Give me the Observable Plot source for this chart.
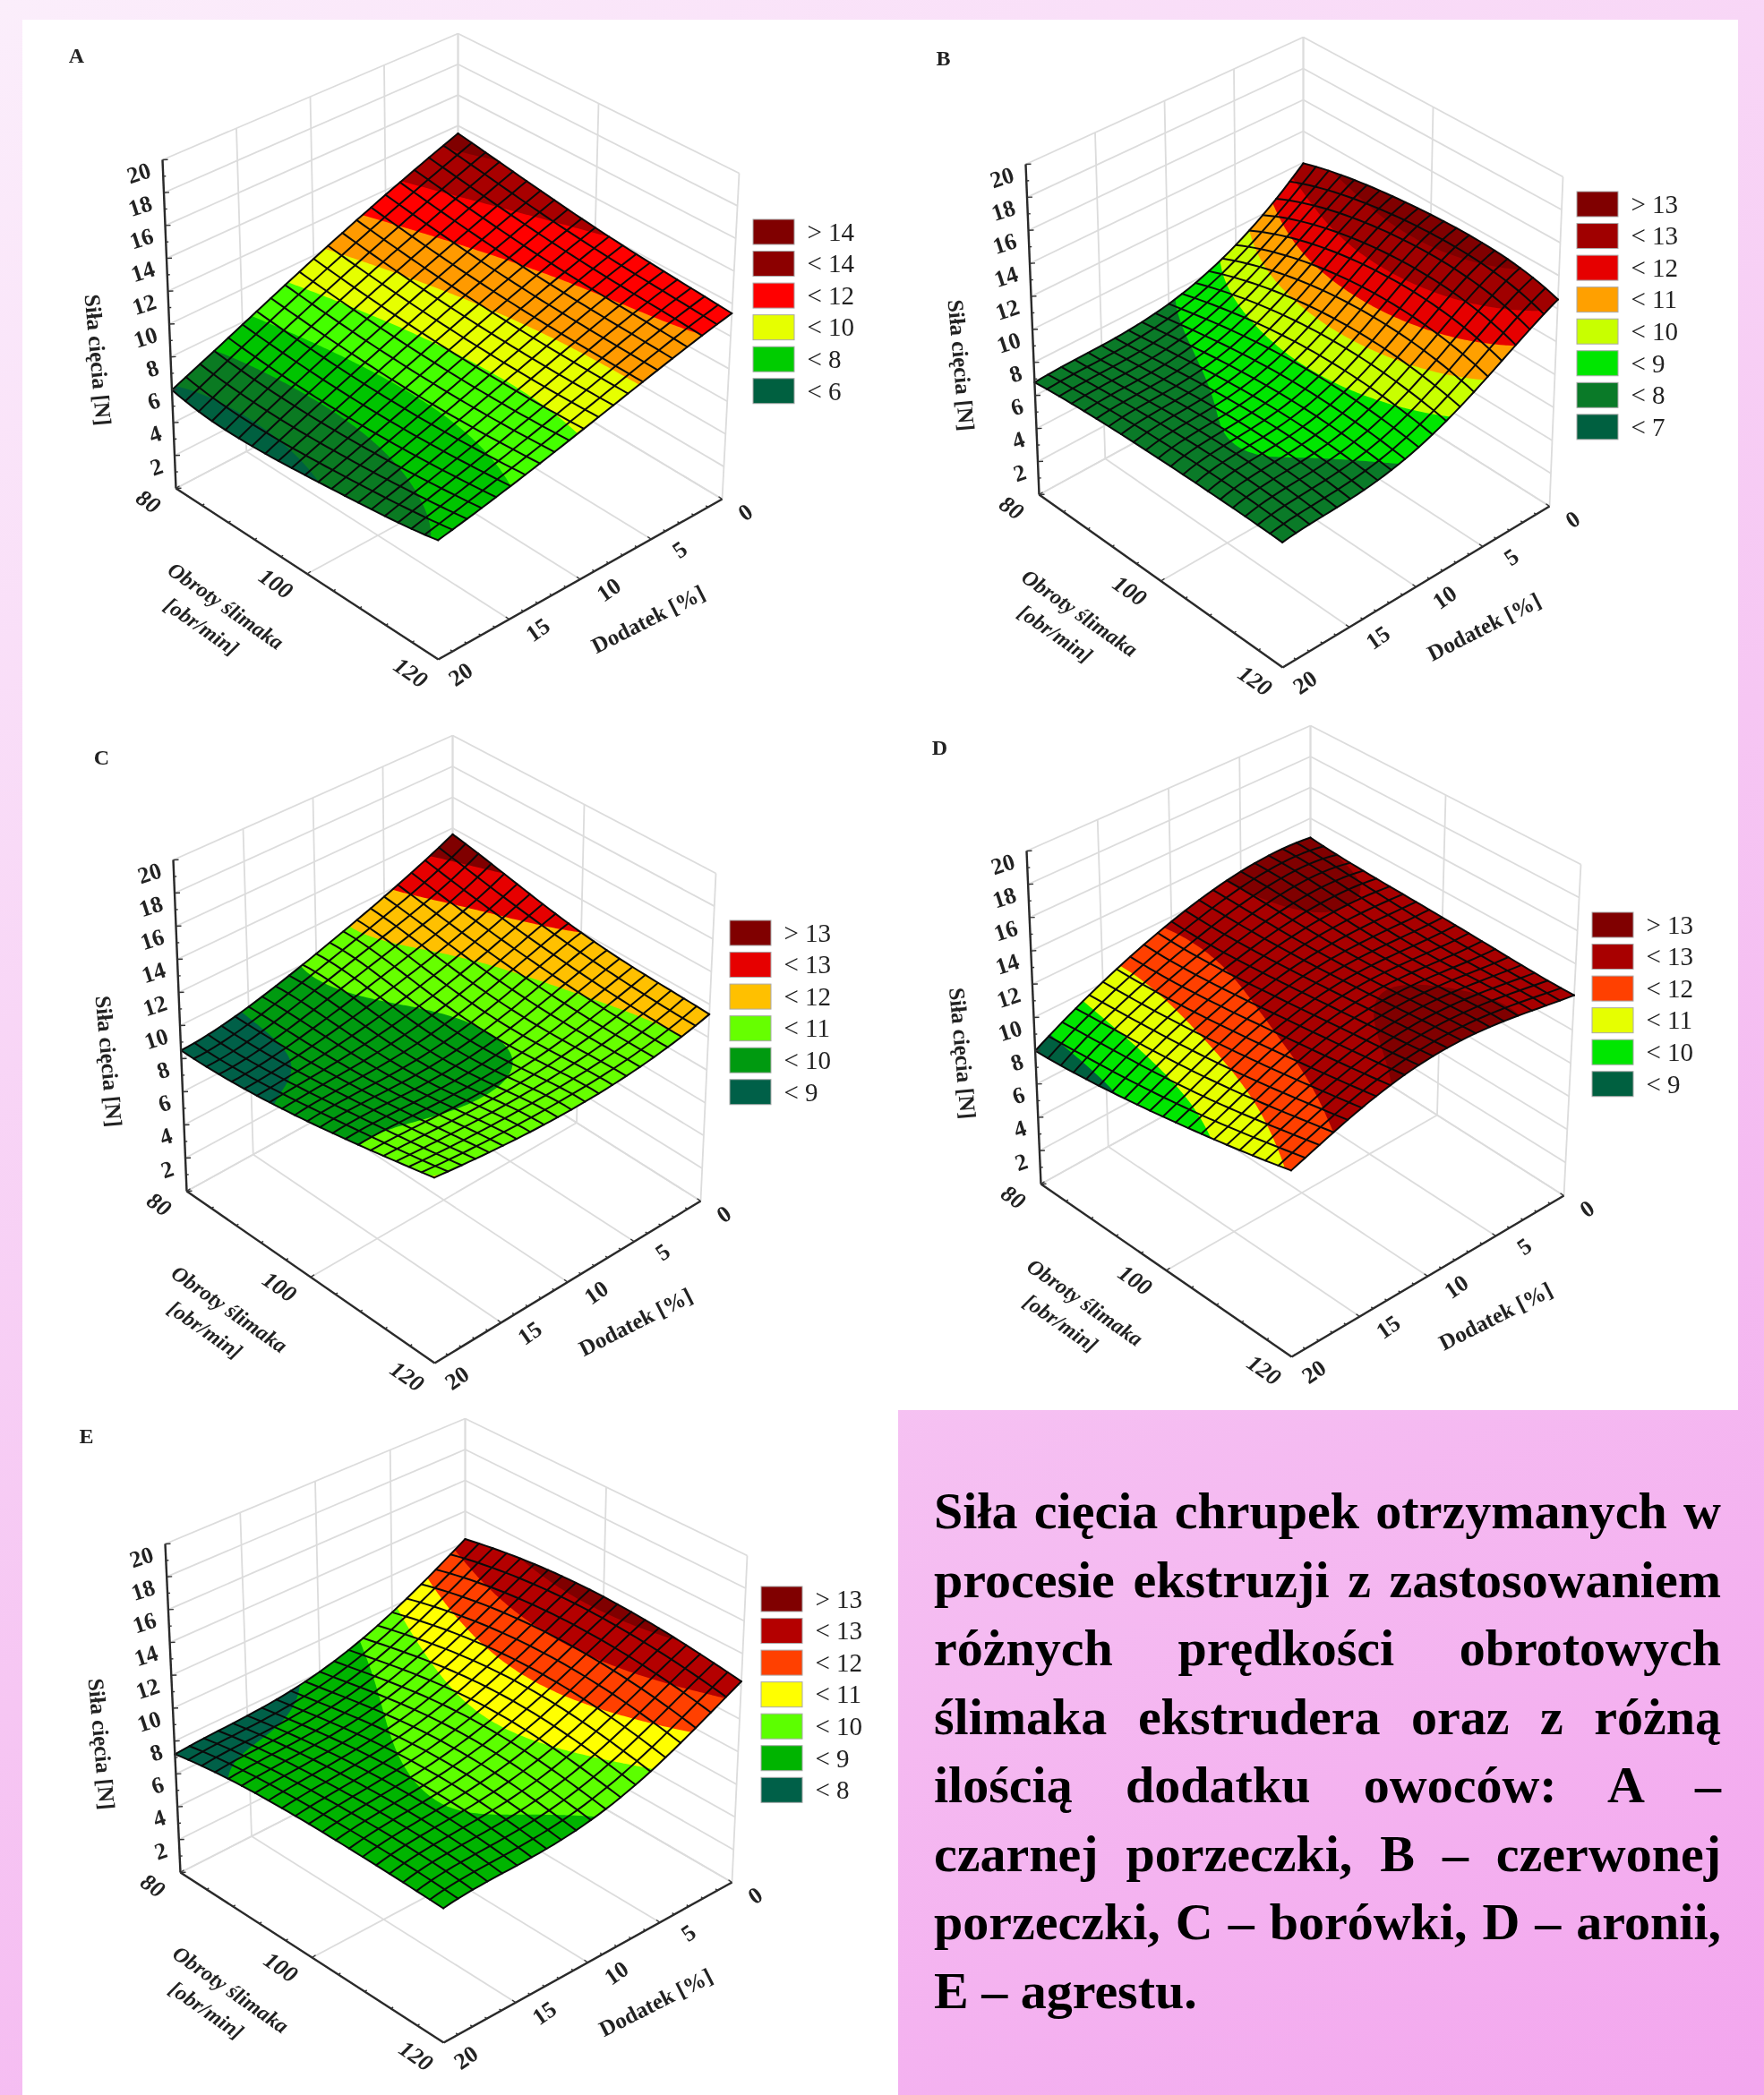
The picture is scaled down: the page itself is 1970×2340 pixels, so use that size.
<!DOCTYPE html>
<html lang="pl">
<head>
<meta charset="utf-8">
<script src="https://cdn.jsdelivr.net/npm/d3@7"></script>
<script src="https://cdn.jsdelivr.net/npm/@observablehq/plot@0.6"></script>
<style>
html,body{margin:0;padding:0;width:1970px;height:2340px;overflow:hidden}
#page{position:relative;width:1970px;height:2340px;background:linear-gradient(150deg,#fbeefb 0%,#f6c6f3 55%,#f3a6ee 100%)}
.white{position:absolute;background:#fff}
.panel{position:absolute}
.panel svg{display:block;background:transparent;filter:blur(.5px)}
#caption{position:absolute;left:1043px;top:1650px;width:879px;font:bold 58px/76.5px "Liberation Serif",serif;color:#000;white-space:nowrap}
#caption div{text-align:justify;text-align-last:justify}
#caption div:last-child{text-align-last:left}
</style>
</head>
<body>
<div id="page">
<div class="white" style="left:25px;top:22px;width:1916px;height:1553px"></div>
<div class="white" style="left:25px;top:1575px;width:978px;height:765px"></div>
<div id="caption"></div>
</div>
<script>
// Values: siła cięcia [N]; rows = obroty 80..120, columns = dodatek 0..20
const obrotyNodes = [80, 90, 100, 110, 120];
const dodatekNodes = [0, 5, 10, 15, 20];
const surfaceA = [[13.4,11.6,9.7,7.75,5.9],[12.7,11.0,9.25,7.45,5.55],[12.1,10.6,9.0,7.4,5.9],[11.7,10.4,8.95,7.6,6.4],[11.4,10.3,9.1,8.0,7.1]];
const surfaceB = [[12.6,9.5,7.9,7.4,7.2],[13.3,10.8,8.6,7.75,7.5],[13.5,11.3,8.95,8.03,7.6],[13.3,11.1,8.85,8.02,7.6],[12.3,10.1,8.3,7.65,7.5]];
const surfaceC = [[13.7,11.8,10.3,9.1,8.5],[12.8,11.2,10.05,9.2,8.75],[12.0,10.7,9.7,9.45,9.35],[11.6,10.55,10.0,10.0,10.15],[11.4,10.6,10.4,10.6,11.05]];
const surfaceD = [[13.15,13.15,12.15,10.55,8.5],[12.85,13.0,12.2,10.8,8.85],[12.7,12.85,12.55,11.25,9.45],[12.5,13.0,12.95,11.85,10.2],[12.4,13.15,13.35,12.55,11.1]];
const surfaceE = [[12.4,9.85,8.25,7.65,7.4],[13.1,10.8,9.1,8.4,8.1],[13.3,11.2,9.6,8.85,8.4],[13.05,11.0,9.5,8.95,8.5],[12.5,10.3,8.95,8.65,8.5]];

const levelsA = [6,7,8,9,10,11,12,13];
const colorsA = ["#006040","#0a7a22","#00c400","#44ff00","#e6ff00","#ff9a00","#ff0000","#a80000","#800000"];
const levelsB = [7,8,9,10,11,12,13];
const colorsB = ["#006040","#0a7a28","#00e600","#c8ff00","#ffa000","#e60000","#a00000","#800000"];
const levelsC = [9,10,11,12,13];
const colorsC = ["#006048","#009a10","#66ff00","#ffc000","#e60000","#800000"];
const levelsD = [9,10,11,12,13];
const colorsD = ["#006040","#00e600","#e6ff00","#ff4000","#a80000","#800000"];
const levelsE = [8,9,10,11,12,13];
const colorsE = ["#006048","#00b400","#5cff00","#ffff00","#ff4000","#b40000","#800000"];

const legendLabelsA = ["> 14","< 14","< 12","< 10","< 8","< 6"];
const legendColorsA = ["#800000","#8c0000","#ff0000","#e6ff00","#00cc00","#006040"];
const legendLabelsB = ["> 13","< 13","< 12","< 11","< 10","< 9","< 8","< 7"];
const legendColorsB = ["#800000","#a00000","#e60000","#ffa000","#c8ff00","#00e600","#0a7a28","#006040"];
const legendLabelsC = ["> 13","< 13","< 12","< 11","< 10","< 9"];
const legendColorsC = ["#800000","#e60000","#ffc000","#66ff00","#009a10","#006048"];
const legendLabelsD = ["> 13","< 13","< 12","< 11","< 10","< 9"];
const legendColorsD = ["#800000","#a80000","#ff4000","#e6ff00","#00e600","#006040"];
const legendLabelsE = ["> 13","< 13","< 12","< 11","< 10","< 9","< 8"];
const legendColorsE = ["#800000","#b40000","#ff4000","#ffff00","#5cff00","#00b400","#006048"];

const zTicks = [0,2,4,6,8,10,12,14,16,18,20];
const obrotyTicks = [80,100,120];
const dodatekTicks = [0,5,10,15,20];
const axisTitleZ = "Siła cięcia [N]";
const axisTitleObroty = ["Obroty ślimaka","[obr/min]"];
const axisTitleDodatek = "Dodatek [%]";
const captionLines = ["Siła cięcia chrupek otrzymanych w","procesie ekstruzji z zastosowaniem","różnych prędkości obrotowych","ślimaka ekstrudera oraz z różną","ilością dodatku owoców: A –","czarnej porzeczki, B – czerwonej","porzeczki, C – borówki, D – aronii,","E – agrestu."];

// Cameras: where the box corners fall on the page (0 = floor, 1 = top of z axis); sag = [back, left, right, front]
const cameraA = {L0:[196,545],L1:[181,178],B0:[511,380],B1:[511,37],R0:[806,557],R1:[825,193],F0:[489,736],F1:[488,361],sag:[-.1,-.1,0,0]};
const cameraB = {L0:[1160,552],L1:[1145,183],B0:[1455,391],B1:[1455,41],R0:[1730,565],R1:[1745,197],F0:[1432,745],F1:[1431,370],sag:[.65,.4,-.25,.05]};
const cameraC = {L0:[208,1330],L1:[193,960],B0:[505,1166],B1:[505,821],R0:[782,1341],R1:[799,975],F0:[485,1522],F1:[484,1147],sag:[.1,0,0,0]};
const cameraD = {L0:[1162,1322],L1:[1146,950],B0:[1463,1155],B1:[1463,810],R0:[1746,1335],R1:[1765,965],F0:[1442,1515],F1:[1441,1140],sag:[.4,.5,.3,0]};
const cameraE = {L0:[201,2091],L1:[184,1724],B0:[519,1929],B1:[519,1584],R0:[817,2102],R1:[834,1737],F0:[495,2281],F1:[494,1906],sag:[.2,.2,.2,.5]};

const panels = [
 {name:"A",rows:surfaceA,cam:cameraA,levels:levelsA,colors:colorsA,labels:legendLabelsA,swatches:legendColorsA,box:[30,25,1000,795],legend:[841,245],letter:[85,62]},
 {name:"B",rows:surfaceB,cam:cameraB,levels:levelsB,colors:colorsB,labels:legendLabelsB,swatches:legendColorsB,box:[1005,25,1935,795],legend:[1761,214],letter:[1053,65]},
 {name:"C",rows:surfaceC,cam:cameraC,levels:levelsC,colors:colorsC,labels:legendLabelsC,swatches:legendColorsC,box:[30,800,1000,1570],legend:[815,1028],letter:[113,846]},
 {name:"D",rows:surfaceD,cam:cameraD,levels:levelsD,colors:colorsD,labels:legendLabelsD,swatches:legendColorsD,box:[1005,800,1935,1570],legend:[1778,1019],letter:[1049,835]},
 {name:"E",rows:surfaceE,cam:cameraE,levels:levelsE,colors:colorsE,labels:legendLabelsE,swatches:legendColorsE,box:[30,1575,1000,2338],legend:[850,1772],letter:[96,1604]}
];

const unit = dodatekNodes.map(d => d / 20);
const weights = t => unit.map((n,i) => unit.reduce((p,m,j) => j===i ? p : p*(t-m)/(n-m), 1));
const surfaceAt = (rows,u,v) => {
  const wu = weights(u), wv = weights(v);
  return d3.sum(rows, (row,i) => wv[i]*d3.sum(row,(val,j) => wu[j]*val));
};
const lerp = (a,b,t) => a+(b-a)*t;
const projector = cam => (u,v,z) => {
  const w = z/20;
  return [0,1].map(k => {
    const floor = lerp(lerp(cam.B0[k],cam.L0[k],u),lerp(cam.R0[k],cam.F0[k],u),v);
    const top = lerp(lerp(cam.B1[k],cam.L1[k],u),lerp(cam.R1[k],cam.F1[k],u),v);
    return lerp(floor,top,w);
  });
};
const GRID = 121, MESH = 20, STEP = 2;
const FONT = "Liberation Serif";

function segment(p,a,b){ const s=p(...a), e=p(...b); return {x1:s[0],y1:s[1],x2:e[0],y2:e[1]}; }

function drawPanel(panel){
  const {rows,cam,box} = panel;
  const p = projector(cam);
  const heightAt = (u,v) => surfaceAt(rows,u,v);
  const sagAt = (u,v) => lerp(lerp(cam.sag[0],cam.sag[1],u),lerp(cam.sag[2],cam.sag[3],u),v);
  const lift = (u,v) => p(u,v,heightAt(u,v)-sagAt(u,v));

  // Walls and floor
  const grid = [];
  for(const z of zTicks){
    grid.push(segment(p,[1,0,z],[0,0,z]));
    grid.push(segment(p,[0,0,z],[0,1,z]));
  }
  for(const d of dodatekTicks){
    grid.push(segment(p,[d/20,0,0],[d/20,0,20]));
    grid.push(segment(p,[d/20,0,0],[d/20,1,0]));
  }
  for(const r of obrotyTicks){
    grid.push(segment(p,[0,(r-80)/40,0],[0,(r-80)/40,20]));
    grid.push(segment(p,[0,(r-80)/40,0],[1,(r-80)/40,0]));
  }

  // Colour bands
  const values = new Float64Array(GRID*GRID);
  for(let j=0;j<GRID;j++) for(let i=0;i<GRID;i++) values[i+j*GRID]=heightAt(i/(GRID-1),j/(GRID-1));
  const clamp = g => Math.max(0,Math.min(1,(g-.5)/(GRID-1)));
  const bands = d3.contours().size([GRID,GRID]).thresholds([-1,...panel.levels])(values).map(c => ({
    type:"MultiPolygon", value:c.value,
    coordinates:c.coordinates.map(poly => poly.map(ring => ring.map(([gx,gy]) => lift(clamp(gx),clamp(gy)))))
  }));

  // Wire mesh
  const mesh = [];
  for(let k=0;k<=MESH;k++){
    for(let s=0;s<=MESH*STEP;s++){
      const a=k/MESH, b=s/(MESH*STEP);
      const P=lift(a,b), Q=lift(b,a);
      mesh.push({line:"u"+k,x:P[0],y:P[1]});
      mesh.push({line:"v"+k,x:Q[0],y:Q[1]});
    }
  }

  // Axes
  const axes = [segment(p,[1,0,0],[1,0,20]),segment(p,[1,0,0],[1,1,0]),segment(p,[1,1,0],[0,1,0])];
  const tickRows = [];
  for(const z of d3.range(0,20.01,1)){ const a=p(1,0,z), L=z%2===0?6:3; tickRows.push({x1:a[0],y1:a[1],x2:a[0]+L,y2:a[1]-L*.05}); }
  for(const r of d3.range(80,120.01,4)){ const a=p(1,(r-80)/40,0), L=r%20===0?5:3; tickRows.push({x1:a[0],y1:a[1],x2:a[0]+L*.8,y2:a[1]-L*.55}); }
  for(const d of d3.range(0,20.01,1)){ const a=p(d/20,1,0), L=d%5===0?5:3; tickRows.push({x1:a[0],y1:a[1],x2:a[0]-L*.8,y2:a[1]-L*.55}); }

  const at = (pt,dx,dy,text,rotate) => ({x:pt[0]+dx,y:pt[1]+dy,text:String(text),rotate});
  const zLabels = zTicks.filter(z => z>0).map(z => at(p(1,0,z),-14,11,z,-18));
  const obrotyLabels = obrotyTicks.map(r => at(p(1,(r-80)/40,0),r===100?-35:-31,r===100?11:15,r,35));
  const dodatekLabels = dodatekTicks.map(d => at(p(d/20,1,0),d===0?26:d===20?25:32,d===0?15:d===20?17:12,d,-35));
  const lf = p(1,.5,0), fr = p(.5,1,0), lz = p(1,0,10);
  const obrotyTitles = [
    at(lf,-91,36,axisTitleObroty[0],35),
    at(lf,-118,59,axisTitleObroty[1],35)
  ];
  const otherTitles = [
    at(lz,-80,40,axisTitleZ,85),
    at(fr,76,45,axisTitleDodatek,-27)
  ];

  const [lx,ly] = panel.legend;
  const legend = panel.labels.map((label,i) => ({label,color:panel.swatches[i],x1:lx,x2:lx+46,y1:ly+i*35.55,y2:ly+i*35.55+28,tx:lx+60,ty:ly+i*35.55+14}));
  const textStyle = {x:"x",y:"y",text:"text",rotate:"rotate",fontFamily:FONT,fontWeight:"bold",fill:"#222"};

  const svg = Plot.plot({
    width:box[2]-box[0], height:box[3]-box[1], margin:0,
    x:{domain:[box[0],box[2]],range:[0,box[2]-box[0]],axis:null},
    y:{domain:[box[1],box[3]],range:[0,box[3]-box[1]],axis:null},
    color:{type:"threshold",domain:panel.levels,range:panel.colors},
    style:{background:"transparent",overflow:"visible"},
    marks:[
      Plot.link(grid,{x1:"x1",y1:"y1",x2:"x2",y2:"y2",stroke:"#dcdcdc",strokeWidth:1.8}),
      Plot.geo(bands,{fill:"value",stroke:"none"}),
      Plot.line(mesh,{x:"x",y:"y",z:"line",stroke:"#0a0a0a",strokeWidth:2,strokeLinejoin:"round"}),
      Plot.link(axes,{x1:"x1",y1:"y1",x2:"x2",y2:"y2",stroke:"#2a2a2a",strokeWidth:2.4}),
      Plot.link(tickRows,{x1:"x1",y1:"y1",x2:"x2",y2:"y2",stroke:"#333",strokeWidth:1.4}),
      Plot.text(zLabels,{...textStyle,textAnchor:"end",fontSize:26}),
      Plot.text(obrotyLabels,{...textStyle,fontStyle:"italic",fontSize:26}),
      Plot.text(dodatekLabels,{...textStyle,fontSize:26}),
      Plot.text(obrotyTitles,{...textStyle,fontStyle:"italic",fontSize:24}),
      Plot.text(otherTitles,{...textStyle,fontSize:25}),
      Plot.rect(legend,{x1:"x1",x2:"x2",y1:"y1",y2:"y2",fill:{value:"color",scale:null},stroke:"#aaa",strokeWidth:1}),
      Plot.text(legend,{x:"tx",y:"ty",text:"label",textAnchor:"start",fontFamily:FONT,fontSize:29,fill:"#222"}),
      Plot.text([{x:panel.letter[0],y:panel.letter[1],t:panel.name}],{x:"x",y:"y",text:"t",fontFamily:FONT,fontWeight:"bold",fontSize:24,fill:"#222"})
    ]
  });
  const holder = document.createElement("div");
  holder.className = "panel";
  holder.style.left = box[0]+"px";
  holder.style.top = box[1]+"px";
  holder.append(svg);
  document.getElementById("page").append(holder);
}
panels.forEach(drawPanel);
const cap = document.getElementById("caption");
for(const line of captionLines){ const d=document.createElement("div"); d.textContent=line; cap.append(d); }
</script>
</body>
</html>
